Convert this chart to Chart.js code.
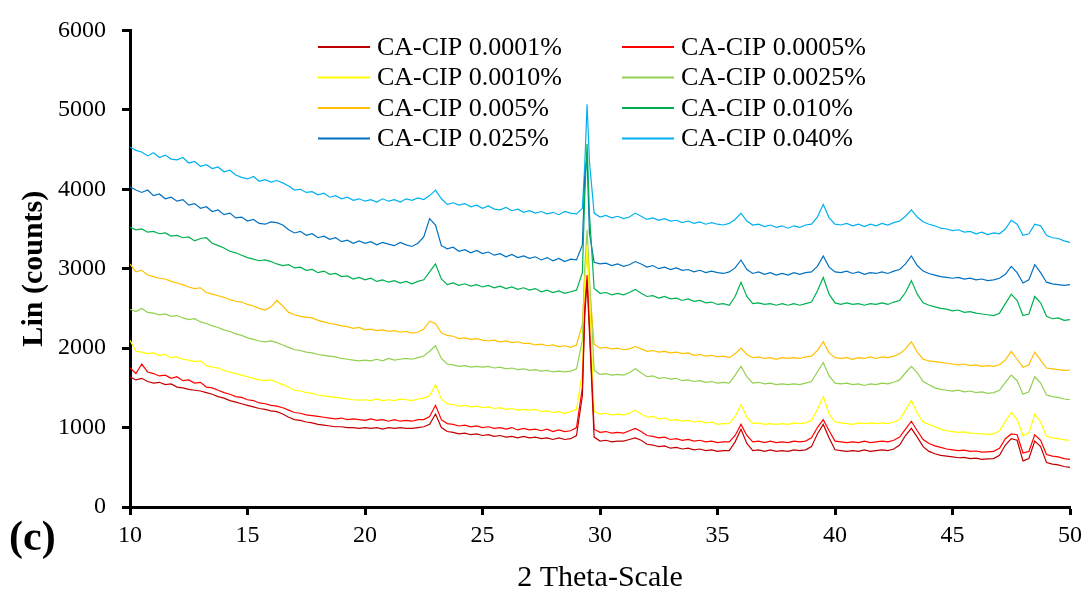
<!DOCTYPE html>
<html><head><meta charset="utf-8">
<script src="https://cdn.jsdelivr.net/npm/chart.js@4.4.1/dist/chart.umd.min.js"></script>
<style>html,body{margin:0;padding:0;background:#fff;}#wrap{width:1089px;height:594px;position:relative;}</style>
</head><body><div id="wrap"><canvas id="c" width="1089" height="594"></canvas></div>
<script>
// 2-theta positions (degrees)
const twoTheta = [
10,10.25,10.5,10.75,11,11.25,11.5,11.75,12,12.25,12.5,12.75,13,13.25,13.5,13.75,14,14.25,14.5,14.75,
15,15.25,15.5,15.75,16,16.25,16.5,16.75,17,17.25,17.5,17.75,18,18.25,18.5,18.75,19,19.25,19.5,19.75,
20,20.25,20.5,20.75,21,21.25,21.5,21.75,22,22.25,22.5,22.75,23,23.25,23.5,23.75,24,24.25,24.5,24.75,
25,25.25,25.5,25.75,26,26.25,26.5,26.75,27,27.25,27.5,27.75,28,28.25,28.5,28.75,29,29.25,
29.35,29.45,29.55,
29.75,30,30.25,30.5,30.75,31,31.25,31.5,31.75,32,32.25,32.5,32.75,33,33.25,33.5,33.75,34,34.25,34.5,34.75,
35,35.25,35.5,35.75,36,36.25,36.5,36.75,37,37.25,37.5,37.75,38,38.25,38.5,38.75,39,39.25,39.5,39.75,
40,40.25,40.5,40.75,41,41.25,41.5,41.75,42,42.25,42.5,42.75,43,43.25,43.5,43.75,44,44.25,44.5,44.75,
45,45.25,45.5,45.75,46,46.25,46.5,46.75,47,47.25,47.5,47.75,48,48.25,48.5,48.75,49,49.25,49.5,49.75,50];

const seriesLabels = ['CA-CIP 0.0001%','CA-CIP 0.0005%','CA-CIP 0.0010%','CA-CIP 0.0025%','CA-CIP 0.005%','CA-CIP 0.010%','CA-CIP 0.025%','CA-CIP 0.040%'];
const seriesColors = ['#C00000','#FF0000','#FFFF00','#92D050','#FFC000','#00B050','#0070C0','#00B0F0'];

const cip0001 = [
1640,1600,1620,1580,1560,1570,1540,1550,1510,1500,1480,1470,1460,1440,1420,1390,1370,1340,1320,1300,
1280,1260,1240,1230,1210,1200,1170,1130,1100,1090,1070,1060,1040,1030,1020,1010,1010,1000,1000,990,
1000,990,1000,980,1000,990,1000,990,990,1000,1010,1040,1170,1000,950,940,920,930,910,920,
900,910,890,900,880,890,870,890,870,880,860,870,850,870,850,860,900,1400,
2400,2850,2200,
880,830,840,820,830,830,850,870,840,790,780,760,770,740,750,730,740,720,730,710,720,
700,710,710,820,980,800,710,720,700,720,700,710,700,720,710,720,760,920,1040,870,
720,710,700,710,700,720,700,710,720,710,730,780,900,990,880,760,700,670,650,640,
630,620,625,610,615,600,605,610,650,780,860,840,580,610,830,760,560,540,530,510,500];

const cip0005 = [
1750,1680,1800,1700,1680,1650,1660,1620,1640,1590,1600,1560,1570,1510,1500,1470,1440,1420,1390,1380,
1350,1340,1310,1300,1280,1270,1250,1220,1190,1180,1160,1150,1140,1130,1120,1110,1120,1100,1110,1100,
1090,1110,1090,1100,1080,1100,1080,1090,1080,1100,1100,1140,1280,1100,1050,1040,1020,1030,1010,1020,
1000,1010,990,1000,980,1000,970,990,970,980,960,980,950,970,950,960,1000,1500,
2500,2920,2300,
980,940,950,930,940,930,960,990,950,900,890,870,880,850,860,840,850,830,840,820,830,
810,820,820,900,1040,900,820,830,810,830,810,820,810,830,820,830,870,1000,1100,960,
830,820,810,820,810,830,810,820,830,820,840,880,980,1080,960,850,800,770,750,730,
720,710,715,700,705,690,695,700,740,860,920,910,680,700,910,840,660,640,630,610,600];

const cip0010 = [
2100,1960,1950,1930,1940,1910,1920,1880,1890,1860,1850,1830,1840,1780,1760,1750,1720,1700,1680,1660,
1640,1620,1600,1590,1600,1570,1540,1510,1470,1460,1440,1430,1410,1400,1390,1380,1370,1360,1350,1345,
1350,1340,1360,1340,1350,1340,1360,1350,1340,1360,1370,1400,1540,1360,1300,1290,1270,1280,1260,1270,
1250,1260,1240,1250,1230,1240,1220,1230,1220,1230,1200,1210,1190,1200,1180,1200,1230,1700,
2800,3300,2700,
1200,1170,1180,1160,1170,1160,1180,1220,1170,1130,1140,1110,1120,1090,1100,1080,1090,1070,1080,1060,1070,
1040,1050,1050,1140,1290,1130,1050,1060,1040,1050,1040,1050,1040,1060,1050,1060,1090,1230,1390,1170,
1070,1060,1050,1040,1060,1050,1060,1050,1060,1050,1070,1100,1220,1340,1180,1070,1040,1010,980,960,
950,940,945,930,925,920,915,920,960,1080,1190,1100,900,930,1170,1070,890,870,860,845,840];

const cip0025 = [
2490,2460,2500,2450,2440,2420,2430,2400,2410,2380,2360,2370,2330,2310,2280,2260,2230,2210,2180,2160,
2130,2110,2090,2080,2090,2070,2040,2010,1980,1970,1950,1940,1920,1910,1900,1890,1870,1860,1850,1840,
1850,1840,1860,1840,1870,1850,1860,1870,1860,1880,1900,1960,2030,1870,1800,1790,1770,1780,1760,1770,
1760,1770,1750,1760,1740,1750,1730,1740,1720,1730,1710,1720,1700,1710,1700,1710,1740,2100,
3000,3490,2900,
1720,1670,1680,1660,1670,1660,1690,1740,1690,1640,1650,1620,1630,1610,1620,1590,1600,1580,1590,1570,1580,
1560,1570,1560,1660,1770,1640,1560,1570,1550,1560,1540,1550,1540,1550,1540,1560,1580,1700,1820,1650,
1560,1550,1560,1540,1550,1530,1550,1540,1560,1550,1570,1600,1690,1770,1690,1580,1540,1500,1480,1470,
1460,1470,1450,1460,1440,1450,1430,1440,1470,1570,1660,1590,1420,1450,1640,1560,1410,1390,1380,1360,1350];

const cip005 = [
3060,2960,2980,2920,2900,2880,2870,2840,2820,2800,2770,2750,2760,2700,2680,2660,2640,2610,2590,2580,
2550,2530,2500,2480,2520,2600,2530,2450,2420,2400,2390,2380,2350,2330,2310,2300,2280,2270,2250,2260,
2230,2240,2220,2230,2210,2220,2200,2210,2190,2200,2240,2340,2310,2190,2160,2150,2120,2130,2110,2120,
2100,2090,2100,2080,2090,2070,2080,2060,2060,2040,2050,2030,2040,2020,2030,2010,2040,2300,
2900,3200,2800,
2050,2000,2010,1990,2000,1980,1990,2020,1990,1960,1970,1950,1960,1940,1950,1930,1940,1910,1920,1900,1910,
1890,1900,1880,1930,2000,1920,1880,1890,1870,1880,1860,1880,1870,1880,1870,1890,1900,1970,2080,1940,
1880,1870,1880,1860,1880,1870,1890,1870,1890,1880,1900,1930,1990,2080,1950,1860,1840,1830,1820,1810,
1800,1790,1800,1780,1790,1770,1780,1770,1790,1850,1960,1860,1760,1790,1950,1850,1750,1740,1730,1720,1725];

const cip010 = [
3520,3490,3500,3460,3470,3440,3450,3410,3420,3390,3400,3350,3380,3390,3320,3290,3260,3220,3200,3170,
3140,3120,3100,3110,3090,3060,3040,3050,3010,3020,2980,2990,2950,2970,2930,2940,2900,2910,2870,2890,
2860,2880,2840,2860,2830,2850,2820,2840,2810,2840,2860,2960,3060,2870,2800,2820,2790,2810,2780,2800,
2770,2790,2760,2780,2750,2770,2740,2760,2730,2750,2710,2730,2700,2720,2690,2710,2730,2950,
3900,4570,3700,
2750,2690,2700,2670,2690,2670,2700,2740,2690,2650,2660,2630,2650,2620,2630,2600,2620,2590,2600,2570,2580,
2550,2560,2540,2650,2830,2650,2560,2570,2550,2560,2540,2560,2540,2560,2540,2560,2580,2720,2890,2680,
2570,2550,2570,2550,2560,2540,2560,2550,2570,2550,2580,2600,2700,2850,2680,2570,2540,2520,2500,2490,
2470,2480,2450,2460,2440,2430,2420,2410,2440,2560,2680,2600,2410,2430,2650,2570,2400,2370,2380,2350,2360];

const cip025 = [
4030,3990,3960,3990,3920,3940,3880,3900,3850,3870,3800,3820,3760,3780,3720,3740,3680,3700,3640,3650,
3600,3620,3570,3560,3590,3580,3550,3490,3450,3470,3420,3440,3390,3410,3370,3390,3340,3360,3320,3350,
3320,3340,3300,3330,3310,3290,3330,3300,3280,3320,3400,3630,3550,3290,3250,3270,3220,3240,3200,3230,
3190,3210,3170,3190,3150,3180,3140,3160,3130,3150,3110,3140,3100,3130,3090,3120,3110,3300,
4150,4420,3450,
3080,3060,3070,3040,3060,3030,3050,3090,3060,3020,3040,3000,3020,2990,3010,2980,2990,2960,2980,2950,2970,
2950,2940,2960,3010,3110,2990,2940,2960,2930,2950,2920,2940,2920,2950,2930,2950,2960,3030,3160,3020,
2960,2950,2970,2940,2960,2930,2950,2940,2960,2940,2970,2990,3060,3160,3040,2970,2940,2920,2900,2890,
2880,2890,2870,2880,2860,2870,2850,2860,2880,2930,3030,2950,2820,2860,3050,2950,2830,2810,2800,2790,2800];

const cip040 = [
4530,4490,4470,4420,4460,4400,4430,4380,4370,4400,4330,4350,4290,4310,4260,4280,4220,4240,4180,4150,
4130,4160,4100,4120,4090,4110,4080,4040,3990,4000,3960,3970,3930,3950,3900,3920,3880,3900,3860,3880,
3850,3870,3840,3880,3850,3870,3840,3880,3860,3890,3870,3920,3990,3880,3810,3830,3800,3820,3780,3800,
3760,3790,3750,3740,3770,3730,3750,3710,3730,3700,3720,3690,3710,3680,3720,3700,3690,3760,
4300,5070,4350,
3700,3650,3670,3640,3660,3630,3650,3700,3660,3620,3640,3610,3630,3600,3610,3580,3600,3570,3590,3560,3580,
3560,3550,3570,3620,3700,3600,3550,3560,3530,3550,3520,3540,3510,3540,3520,3550,3560,3650,3810,3640,
3560,3550,3570,3540,3560,3530,3560,3540,3570,3550,3580,3600,3660,3740,3650,3590,3560,3540,3510,3500,
3480,3490,3460,3470,3440,3460,3430,3450,3440,3500,3610,3560,3420,3440,3560,3540,3420,3390,3380,3350,3330];

const xTickValues = [10,15,20,25,30,35,40,45,50];
const yTickValues = [0,1000,2000,3000,4000,5000,6000];
const xAxisTitle = '2 Theta-Scale';
const yAxisTitle = 'Lin (counts)';
const panelLabel = '(c)';

const seriesValues = [cip0001,cip0005,cip0010,cip0025,cip005,cip010,cip025,cip040];
const FONT = '"Liberation Serif", "Times New Roman", serif';

const datasets = seriesValues.map((vals, i) => ({
  label: seriesLabels[i],
  data: vals.map((v, j) => ({x: twoTheta[j], y: v})),
  borderColor: seriesColors[i],
  backgroundColor: seriesColors[i],
  borderWidth: 1.2,
  pointRadius: 0,
  tension: 0,
  fill: false
}));

const overlayPlugin = {
  id: 'overlay',
  afterDatasetsDraw(chart) {
    const ctx = chart.ctx;
    ctx.save();
    ctx.font = '26px ' + FONT;
    ctx.textBaseline = 'middle';
    ctx.textAlign = 'left';
    chart.data.datasets.forEach((ds, i) => {
      const row = Math.floor(i / 2), col = i % 2;
      const x0 = col === 0 ? 318 : 622;
      const y = 47 + row * 30.5;
      ctx.strokeStyle = ds.borderColor;
      ctx.lineWidth = 2;
      ctx.beginPath(); ctx.moveTo(x0, y); ctx.lineTo(x0 + 52, y); ctx.stroke();
      ctx.fillStyle = '#000';
      ctx.fillText(ds.label, x0 + 59, y + 1);
    });
    ctx.font = 'bold 42px ' + FONT;
    ctx.textBaseline = 'alphabetic';
    ctx.fillStyle = '#000';
    ctx.fillText(panelLabel, 9, 550);
    ctx.restore();
  }
};

new Chart(document.getElementById('c'), {
  type: 'line',
  data: { datasets },
  plugins: [overlayPlugin],
  options: {
    responsive: false,
    animation: false,
    devicePixelRatio: 1,
    parsing: false,
    normalized: true,
    layout: { padding: { top: 25, right: 19, left: 0, bottom: 0 } },
    plugins: { legend: { display: false }, tooltip: { enabled: false } },
    scales: {
      x: {
        type: 'linear', min: 10, max: 50,
        afterBuildTicks: s => { s.ticks = xTickValues.map(v => ({ value: v })); },
        afterFit: s => { s.height = 87; },
        grid: { drawOnChartArea: false, drawTicks: true, tickLength: 8, tickWidth: 3, tickColor: '#000' },
        border: { display: true, color: '#000', width: 3 },
        ticks: { color: '#000', font: { family: FONT, size: 24 }, padding: 6, maxRotation: 0, callback: v => String(v) },
        title: { display: true, text: xAxisTitle, color: '#000', font: { family: FONT, size: 30, lineHeight: 1 }, padding: { top: 0, bottom: 1 } }
      },
      y: {
        type: 'linear', min: 0, max: 6000,
        afterBuildTicks: s => { s.ticks = yTickValues.map(v => ({ value: v })); },
        afterFit: s => { s.width = 130; },
        grid: { drawOnChartArea: false, drawTicks: true, tickLength: 8, tickWidth: 3, tickColor: '#000' },
        border: { display: true, color: '#000', width: 3 },
        ticks: { color: '#000', font: { family: FONT, size: 24 }, padding: 16, callback: v => String(v) },
        title: { display: true, text: yAxisTitle, color: '#000', font: { family: FONT, size: 30, weight: 'bold', lineHeight: 1 }, padding: { top: 19, bottom: 0 } }
      }
    }
  }
});
</script></body></html>
